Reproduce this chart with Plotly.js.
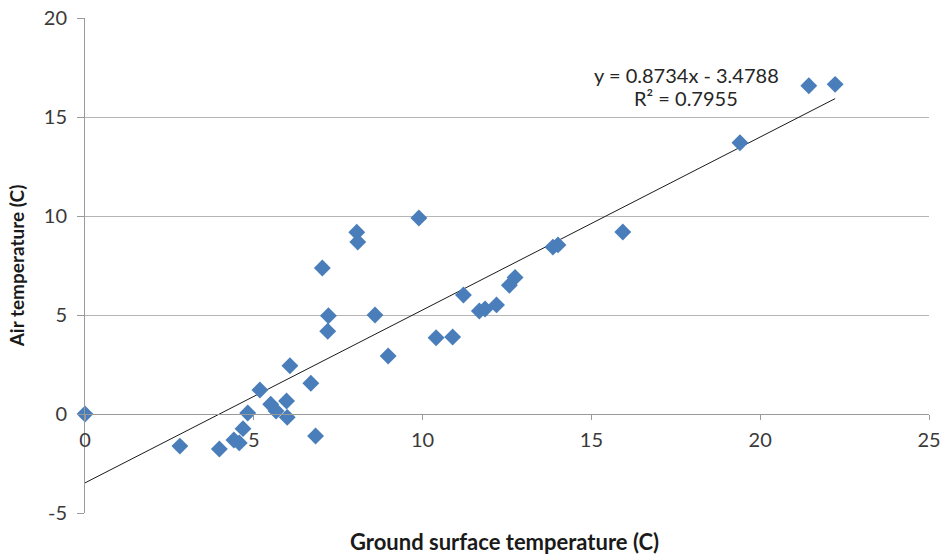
<!DOCTYPE html>
<html>
<head>
<meta charset="utf-8">
<script src="https://cdn.plot.ly/plotly-3.0.1.min.js"></script>
<style>
  html, body { margin: 0; padding: 0; background: #fff; }
  #chart { width: 943px; height: 556px; }
</style>
</head>
<body>
<div id="chart"></div>
<script>
// Ground surface vs air temperature observations (°C)
const groundTemp = [
  0, 2.81, 3.98, 4.41, 4.57, 4.68, 4.82, 5.18, 5.50, 5.66,
  5.97, 5.99, 6.07, 6.69, 6.83, 7.03, 7.21, 7.19, 8.05, 8.08,
  8.59, 8.98, 9.89, 10.40, 10.89, 11.21, 11.68, 11.85, 12.19, 12.57,
  12.74, 13.86, 14.01, 15.93, 19.40, 21.44, 22.22
];
const airTemp = [
  0, -1.62, -1.77, -1.31, -1.46, -0.74, 0.05, 1.21, 0.49, 0.15,
  0.66, -0.17, 2.44, 1.55, -1.11, 7.37, 4.96, 4.18, 9.18, 8.69,
  5.00, 2.93, 9.90, 3.85, 3.89, 6.01, 5.20, 5.30, 5.51, 6.50,
  6.90, 8.43, 8.54, 9.19, 13.70, 16.58, 16.65
];

// Linear trendline as reported in the equation label
const slope = 0.8734;
const intercept = -3.4788;
const rSquared = 0.7955;

const xTicks = [0, 5, 10, 15, 20, 25];
const yTicks = [-5, 0, 5, 10, 15, 20];

const fitX = [0, Math.max(...groundTemp)];
const fitY = fitX.map(x => slope * x + intercept);

const font = 'Lato, "Open Sans", sans-serif';
const tickFont = { family: font, size: 20, color: '#3a3a3a' };

const traces = [
  {
    x: fitX, y: fitY, type: 'scatter', mode: 'lines',
    line: { color: '#1a1a1a', width: 1 },
    hoverinfo: 'skip', showlegend: false
  },
  {
    x: groundTemp, y: airTemp, type: 'scatter', mode: 'markers',
    cliponaxis: false,
    marker: { symbol: 'diamond', size: 13, color: '#4a7ebb', line: { width: 0 } },
    showlegend: false
  }
];

const layout = {
  width: 943, height: 556,
  margin: { l: 85, r: 14, t: 18, b: 43 },
  paper_bgcolor: '#ffffff', plot_bgcolor: '#ffffff',
  font: { family: font, size: 20, color: '#3a3a3a' },
  xaxis: {
    range: [0, 25], tickvals: xTicks, ticktext: xTicks.map(String),
    anchor: 'free', position: 0.2,
    showgrid: false, zeroline: false,
    showline: true, linecolor: '#9a9a9a', linewidth: 1,
    ticks: 'outside', ticklen: 5, tickcolor: '#9a9a9a',
    ticklabelstandoff: 3,
    tickfont: tickFont
  },
  yaxis: {
    range: [-5, 20], tickvals: yTicks, ticktext: yTicks.map(String),
    domain: [0, 1],
    showgrid: true, gridcolor: '#b5b5b5', gridwidth: 1,
    zeroline: false,
    showline: true, linecolor: '#9a9a9a', linewidth: 1,
    ticks: 'outside', ticklen: 7, tickcolor: '#9a9a9a',
    ticklabelstandoff: 6,
    tickfont: tickFont,
    title: { text: '<b>Air temperature (C)</b>', font: { family: font, size: 19, color: '#1a1a1a' }, standoff: 14 }
  },
  annotations: [
    {
      xref: 'paper', yref: 'paper', x: 0.497, y: -0.057, yanchor: 'middle',
      text: '<b>Ground surface temperature (C)</b>', showarrow: false,
      font: { family: font, size: 22, color: '#1a1a1a' }
    },
    {
      xref: 'x', yref: 'y', x: 17.83, y: 17.12,
      text: 'y = ' + slope.toFixed(4) + 'x - ' + Math.abs(intercept).toFixed(4),
      showarrow: false, font: { family: font, size: 20, color: '#262626' }
    },
    {
      xref: 'x', yref: 'y', x: 17.8, y: 15.96,
      text: 'R² = ' + rSquared.toFixed(4),
      showarrow: false, font: { family: font, size: 20, color: '#262626' }
    }
  ]
};

Plotly.newPlot('chart', traces, layout, { displayModeBar: false, staticPlot: true });
</script>
</body>
</html>
